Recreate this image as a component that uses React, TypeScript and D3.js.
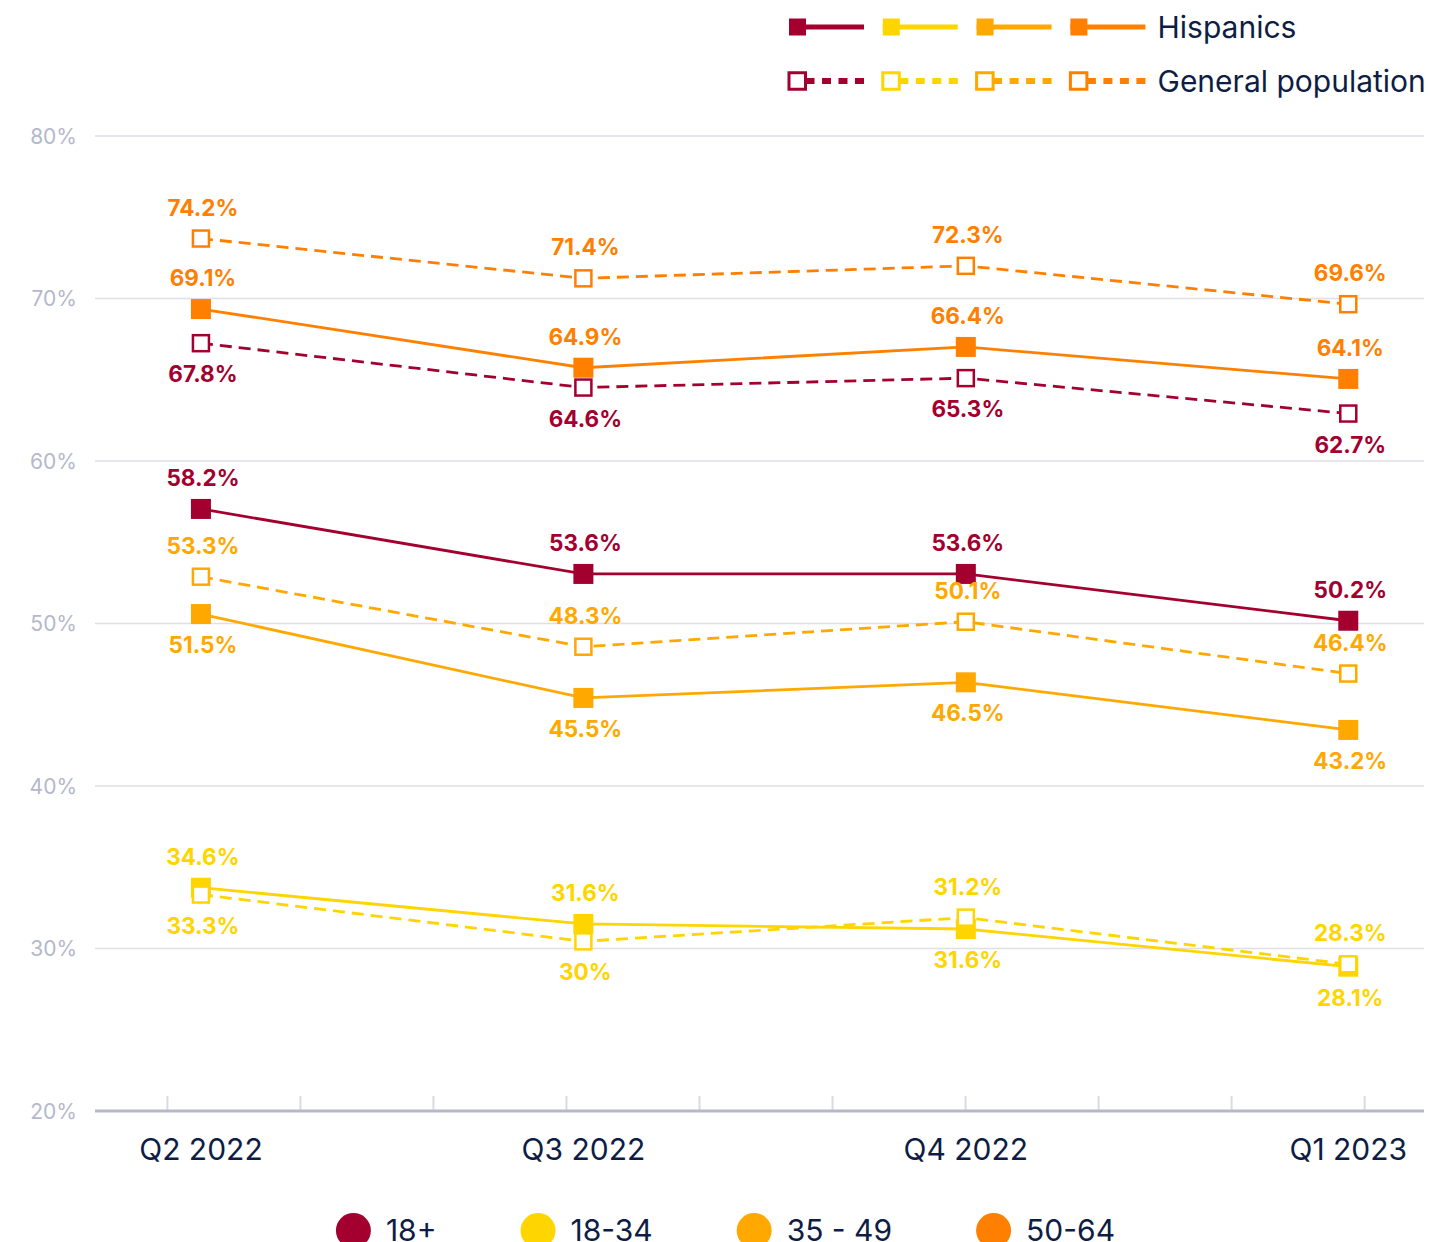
import { useEffect, useRef } from "react";
import * as d3 from "d3";

// quarters on the x axis, age groups as colours
const quarters = ["Q2 2022", "Q3 2022", "Q4 2022", "Q1 2023"];
const groups = ["18+", "18-34", "35 - 49", "50-64"];
const groupColors = ["#A3002F", "#FFD500", "#FFA800", "#FF8000"];
const yTicks = [20, 30, 40, 50, 60, 70, 80];

// plotted values (Hispanics = solid, General population = dashed)
const hisp18 = [57.05, 53.05, 53.05, 50.17];
const gen18 = [67.25, 64.52, 65.1, 62.92];
const hisp1834 = [33.74, 31.51, 31.2, 28.88];
const gen1834 = [33.32, 30.44, 31.9, 29.03];
const hisp3549 = [50.58, 45.42, 46.38, 43.45];
const gen3549 = [52.88, 48.57, 50.11, 46.92];
const hisp5064 = [69.35, 65.74, 67.02, 65.05];
const gen5064 = [73.69, 71.24, 72.01, 69.65];

// data labels as printed on the chart
const hisp18Labels = ["58.2%", "53.6%", "53.6%", "50.2%"];
const gen18Labels = ["67.8%", "64.6%", "65.3%", "62.7%"];
const hisp1834Labels = ["34.6%", "31.6%", "31.6%", "28.1%"];
const gen1834Labels = ["33.3%", "30%", "31.2%", "28.3%"];
const hisp3549Labels = ["51.5%", "45.5%", "46.5%", "43.2%"];
const gen3549Labels = ["53.3%", "48.3%", "50.1%", "46.4%"];
const hisp5064Labels = ["69.1%", "64.9%", "66.4%", "64.1%"];
const gen5064Labels = ["74.2%", "71.4%", "72.3%", "69.6%"];

// -1 = label above the marker, 1 = below
const hisp18Side = [-1, -1, -1, -1];
const gen18Side = [1, 1, 1, 1];
const hisp1834Side = [-1, -1, 1, 1];
const gen1834Side = [1, 1, -1, -1];
const hisp3549Side = [1, 1, 1, 1];
const gen3549Side = [-1, -1, -1, -1];
const hisp5064Side = [-1, -1, -1, -1];
const gen5064Side = [-1, -1, -1, -1];

const FONT = "Inter, 'DejaVu Sans', sans-serif";
const NAVY = "#0E1D45";

const App = () => {
  const svgRef = useRef<SVGSVGElement | null>(null);

  useEffect(() => {
    const svg = d3.select(svgRef.current);
    svg.selectAll("*").remove();

    const left = 95;
    const right = 1424;
    const x = d3.scaleLinear().domain([-0.277, 3.198]).range([left, right]);
    const y = d3.scaleLinear().domain([20, 80]).range([1111, 136]);

    const series = [
      { g: 0, dashed: false, values: hisp18, labels: hisp18Labels, side: hisp18Side },
      { g: 1, dashed: false, values: hisp1834, labels: hisp1834Labels, side: hisp1834Side },
      { g: 2, dashed: false, values: hisp3549, labels: hisp3549Labels, side: hisp3549Side },
      { g: 3, dashed: false, values: hisp5064, labels: hisp5064Labels, side: hisp5064Side },
      { g: 0, dashed: true, values: gen18, labels: gen18Labels, side: gen18Side },
      { g: 1, dashed: true, values: gen1834, labels: gen1834Labels, side: gen1834Side },
      { g: 2, dashed: true, values: gen3549, labels: gen3549Labels, side: gen3549Side },
      { g: 3, dashed: true, values: gen5064, labels: gen5064Labels, side: gen5064Side },
    ];

    // gridlines
    svg
      .append("g")
      .selectAll("line")
      .data(yTicks.filter((t) => t > 20))
      .join("line")
      .attr("x1", left)
      .attr("x2", right)
      .attr("y1", (d) => y(d))
      .attr("y2", (d) => y(d))
      .attr("stroke", "#dedfe8")
      .attr("stroke-width", 1.5);

    svg
      .append("g")
      .selectAll("text")
      .data(yTicks)
      .join("text")
      .attr("x", 77)
      .attr("y", (d) => y(d) + 7.5)
      .attr("text-anchor", "end")
      .attr("font-family", FONT)
      .attr("font-size", 21)
      .attr("fill", "#b4b8cb")
      .text((d) => `${d}%`);

    // x axis: minor ticks pointing up
    const xTicks = d3.range(10).map((k) => -0.089 + (k * 8) / 23);
    const axis = svg
      .append("g")
      .attr("transform", `translate(0,${y(20)})`)
      .call(
        d3
          .axisBottom(x)
          .tickValues(xTicks)
          .tickSizeInner(-15)
          .tickSizeOuter(0)
          .tickFormat(() => "")
      );
    axis.select(".domain").remove();
    axis.selectAll(".tick line").attr("stroke", "#d8dbe5").attr("stroke-width", 2);
    svg
      .append("line")
      .attr("x1", left)
      .attr("x2", right)
      .attr("y1", y(20))
      .attr("y2", y(20))
      .attr("stroke", "#b6b8ca")
      .attr("stroke-width", 3);

    svg
      .append("g")
      .selectAll("text")
      .data(quarters)
      .join("text")
      .attr("x", (_, i) => x(i))
      .attr("y", 1160)
      .attr("text-anchor", "middle")
      .attr("font-family", FONT)
      .attr("font-size", 30)
      .attr("fill", NAVY)
      .text((d) => d);

    const line = d3
      .line<number>()
      .x((_, i) => x(i))
      .y((d) => y(d));

    series.forEach((s) => {
      const color = groupColors[s.g];
      svg
        .append("path")
        .attr("d", line(s.values))
        .attr("fill", "none")
        .attr("stroke", color)
        .attr("stroke-width", 2.8)
        .attr("stroke-dasharray", s.dashed ? "12,7" : null);
      if (s.dashed) {
        svg
          .append("g")
          .selectAll("rect")
          .data(s.values)
          .join("rect")
          .attr("x", (_, i) => x(i) - 8)
          .attr("y", (d) => y(d) - 8)
          .attr("width", 16)
          .attr("height", 16)
          .attr("fill", "#fff")
          .attr("stroke", color)
          .attr("stroke-width", 2.5);
      } else {
        svg
          .append("g")
          .selectAll("rect")
          .data(s.values)
          .join("rect")
          .attr("x", (_, i) => x(i) - 10)
          .attr("y", (d) => y(d) - 10)
          .attr("width", 20)
          .attr("height", 20)
          .attr("fill", color);
      }
    });

    // data labels on top
    series.forEach((s) => {
      svg
        .append("g")
        .selectAll("text")
        .data(s.values)
        .join("text")
        .attr("x", (_, i) => x(i) + 2)
        .attr("y", (d, i) => y(d) + s.side[i] * 31 + 8)
        .attr("text-anchor", "middle")
        .attr("font-family", FONT)
        .attr("font-size", 22.5)
        .attr("font-weight", 700)
        .attr("fill", groupColors[s.g])
        .text((_, i) => s.labels[i]);
    });

    // top legend
    const leg = svg.append("g");
    groupColors.forEach((c, k) => {
      const x0 = 789 + 93.8 * k;
      leg
        .append("line")
        .attr("x1", x0)
        .attr("x2", x0 + 75)
        .attr("y1", 27)
        .attr("y2", 27)
        .attr("stroke", c)
        .attr("stroke-width", 5);
      leg
        .append("rect")
        .attr("x", x0)
        .attr("y", 27 - 8.5)
        .attr("width", 17)
        .attr("height", 17)
        .attr("fill", c);
      leg
        .append("line")
        .attr("x1", x0)
        .attr("x2", x0 + 75)
        .attr("y1", 81)
        .attr("y2", 81)
        .attr("stroke", c)
        .attr("stroke-width", 6)
        .attr("stroke-dasharray", "9,7.5");
      leg
        .append("rect")
        .attr("x", x0)
        .attr("y", 81 - 8.25)
        .attr("width", 16.5)
        .attr("height", 16.5)
        .attr("fill", "#fff")
        .attr("stroke", c)
        .attr("stroke-width", 3);
    });
    [
      ["Hispanics", 27],
      ["General population", 81],
    ].forEach(([t, yy]) => {
      leg
        .append("text")
        .attr("x", 1157.5)
        .attr("y", (yy as number) + 11)
        .attr("font-family", FONT)
        .attr("font-size", 30)
        .attr("fill", NAVY)
        .text(t as string);
    });

    // bottom legend (age groups)
    const bottom = svg.append("g");
    let cx = 353.4;
    groups.forEach((name, k) => {
      bottom
        .append("circle")
        .attr("cx", cx)
        .attr("cy", 1230.5)
        .attr("r", 17.5)
        .attr("fill", groupColors[k]);
      const t = bottom
        .append("text")
        .attr("x", cx + 32.5)
        .attr("y", 1241)
        .attr("font-family", FONT)
        .attr("font-size", 30)
        .attr("fill", NAVY)
        .text(name);
      const w = (t.node() as SVGTextElement).getComputedTextLength();
      cx += 32.5 + w + 84 + 17.5;
    });
  }, []);

  return (
    <svg
      ref={svgRef}
      width={1432}
      height={1242}
      style={{ position: "absolute", left: 0, top: 0, background: "#fff" }}
    ></svg>
  );
};

export default App;
